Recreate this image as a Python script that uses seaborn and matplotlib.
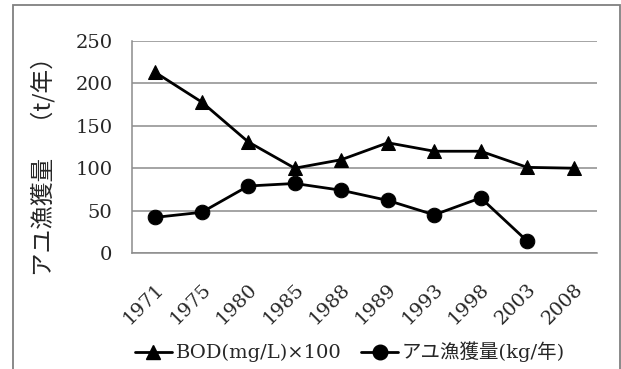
import matplotlib
matplotlib.use("Agg")
import matplotlib.pyplot as plt
import matplotlib.transforms as mtransforms
from matplotlib.patches import Rectangle
from matplotlib.lines import Line2D
import seaborn as sns
import pandas as pd
import numpy as np

years = ["1971", "1975", "1980", "1985", "1988", "1989", "1993", "1998", "2003", "2008"]
bod = [213, 178, 131, 100, 110, 130, 120, 120, 101, 100]
ayu = [42, 48, 79, 82, 74, 62, 45, 65, 14, np.nan]
bod_label = "BOD(mg/L)×100"
ayu_label = "アユ漁獲量(kg/年)"
y_label = "アユ漁獲量　（t/年）"
y_ticks = [0, 50, 100, 150, 200, 250]

sns.set_style("white")
FONT = ["DejaVu Serif", "Noto Sans CJK JP"]
plt.rcParams["font.family"] = FONT

df = pd.DataFrame({
    "pos": list(range(len(years))) * 2,
    "value": bod + ayu,
    "series": [bod_label] * len(years) + [ayu_label] * len(years),
})

fig = plt.figure(figsize=(6.21, 3.69), dpi=100)
ax = fig.add_axes([132 / 621, 1 - 253 / 369, (597 - 132) / 621, (253 - 41) / 369])

sns.lineplot(data=df, x="pos", y="value", hue="series", style="series",
             markers={bod_label: "^", ayu_label: "o"}, dashes=False,
             palette={bod_label: "black", ayu_label: "black"},
             markersize=10.5, linewidth=2, markeredgecolor="black",
             legend=False, ax=ax, zorder=3)

TS = 14
ax.set_xlim(-0.5, len(years) - 0.5)
ax.set_ylim(0, 250)
ax.set_yticks(y_ticks)
ax.set_yticklabels([str(v) for v in y_ticks], fontsize=TS)
ax.grid(axis="y", color="#8c8c8c", linewidth=1.1)
ax.set_axisbelow(True)

ax.set_xticks(range(len(years)))
ax.set_xticklabels(years, fontsize=TS, rotation=45, ha="right", va="center",
                   rotation_mode="anchor")
ax.set_xticks(np.arange(-0.5, len(years), 1.0), minor=True)
ax.tick_params(axis="x", which="major", length=0, pad=24)
ax.tick_params(axis="x", which="minor", length=6, width=1.1, color="#8c8c8c", direction="out")
ax.tick_params(axis="y", which="major", length=7, width=1.1, color="#8c8c8c", direction="out", pad=7)
offset = mtransforms.ScaledTranslation(6 / 100, 0, fig.dpi_scale_trans)
for lab in ax.get_xticklabels():
    lab.set_transform(lab.get_transform() + offset)

for side in ["top", "right"]:
    ax.spines[side].set_visible(False)
for side in ["left", "bottom"]:
    ax.spines[side].set_color("#8c8c8c")
    ax.spines[side].set_linewidth(1.1)
ax.set_xlabel("")
ax.set_ylabel("")

fig.text(43 / 621, 1 - 161 / 369, y_label, rotation=90, ha="center", va="center",
         fontsize=17, family=["Noto Sans CJK JP", "DejaVu Sans"])

handles = [
    Line2D([], [], color="black", lw=2, marker="^", markersize=10.5, label=bod_label),
    Line2D([], [], color="black", lw=2, marker="o", markersize=10.5, label=ayu_label),
]
fig.legend(handles=handles, loc="center", bbox_to_anchor=(350 / 621, 1 - 352 / 369),
           ncol=2, frameon=False, handlelength=1.9, handletextpad=0.2,
           columnspacing=1.0, prop={"family": FONT, "size": 14})

border = Rectangle((12.5 / 621, -0.05), (620 - 12.5) / 621, 1.05 - 5 / 369,
                   transform=fig.transFigure, fill=False, edgecolor="#808080",
                   linewidth=1.3, clip_on=False)
fig.patches.append(border)

fig.savefig("out.png", dpi=100)
